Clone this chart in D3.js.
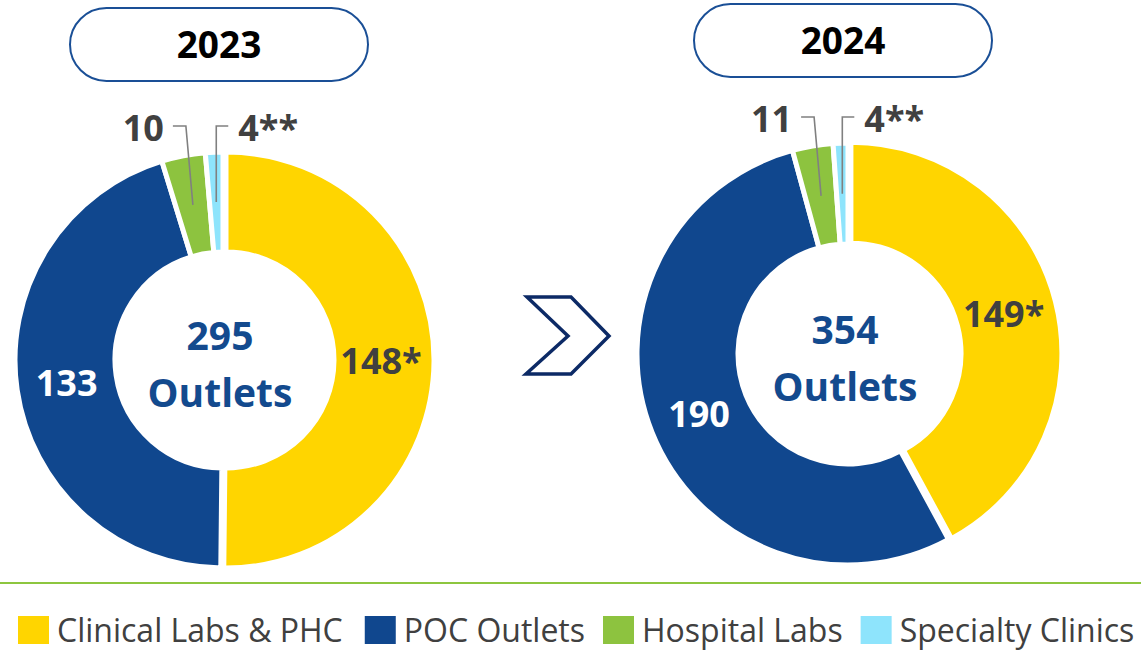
<!DOCTYPE html>
<html>
<head>
<meta charset="utf-8">
<script src="https://cdn.jsdelivr.net/npm/d3@7"></script>
<style>
  html, body { margin: 0; padding: 0; background: #fff; }
  svg { display: block; font-family: "Open Sans", sans-serif; }
</style>
</head>
<body>
<div id="chart"></div>
<script>
// data
var years = ["2023", "2024"];
var categories = ["Clinical Labs & PHC", "POC Outlets", "Hospital Labs", "Specialty Clinics"];
var values2023 = [148, 133, 10, 4];
var values2024 = [149, 190, 11, 4];
var labels2023 = ["148*", "133", "10", "4**"];
var labels2024 = ["149*", "190", "11", "4**"];
var colors = ["#FFD500", "#10478E", "#8DC33F", "#8EE4FC"];

var width = 1141, height = 651;

var svg = d3.select("#chart").append("svg")
  .attr("width", width)
  .attr("height", height);

// one donut per year
var charts = [
  {year: years[0], values: values2023, labels: labels2023, cx: 223, cy: 360, R: 208, r: 108, pillX: 70, pillY: 8},
  {year: years[1], values: values2024, labels: labels2024, cx: 848, cy: 354, R: 211, r: 110, pillX: 694, pillY: 4}
];

var pie = d3.pie().sort(null).value(function(d) { return d; });

charts.forEach(function(c) {
  var g = svg.append("g").attr("transform", "translate(" + c.cx + "," + c.cy + ")");
  var arc = d3.arc().innerRadius(c.r).outerRadius(c.R);
  var mid = d3.arc().innerRadius(c.R * 0.76).outerRadius(c.R * 0.76);
  var arcs = pie(c.values);

  // slices (first slice pulled out a little)
  g.selectAll("path.slice")
    .data(arcs)
    .enter()
    .append("path")
      .attr("class", "slice")
      .attr("d", arc)
      .attr("fill", function(d, i) { return colors[i]; })
      .attr("stroke", "#fff")
      .attr("stroke-width", 5)
      .attr("transform", function(d, i) {
        if (i !== 0) return null;
        var a = (d.startAngle + d.endAngle) / 2;
        return "translate(" + (Math.sin(a) * 3) + "," + (-Math.cos(a) * 3) + ")";
      });

  // labels inside the big slices
  g.selectAll("text.inlabel")
    .data(arcs.filter(function(d) { return d.index < 2; }))
    .enter()
    .append("text")
      .attr("class", "inlabel")
      .attr("transform", function(d) { return "translate(" + arc.centroid(d) + ")"; })
      .attr("dy", "0.36em")
      .attr("text-anchor", "middle")
      .style("font-size", "36px")
      .style("font-weight", "700")
      .attr("fill", function(d) { return d.index === 1 ? "#fff" : "#404040"; })
      .text(function(d) { return c.labels[d.index]; });

  // leader lines + labels for the thin slices
  var ly = -c.R - 26;
  arcs.filter(function(d) { return d.index >= 2; }).forEach(function(d) {
    var p = mid.centroid(d);
    var left = d.index === 2;
    var ex = left ? p[0] - 7 : p[0];
    var hx = left ? ex - 13 : ex + 12;
    g.append("path")
      .attr("d", "M" + p[0] + "," + p[1] + "L" + ex + "," + ly + "L" + hx + "," + ly)
      .attr("fill", "none")
      .attr("stroke", "#808080")
      .attr("stroke-width", 1.6);
    g.append("text")
      .attr("x", left ? hx - 9 : hx + 10)
      .attr("y", ly + 15)
      .attr("text-anchor", left ? "end" : "start")
      .style("font-size", "36px")
      .style("font-weight", "700")
      .attr("fill", "#404040")
      .text(c.labels[d.index]);
  });

  // total in the hole
  var total = d3.sum(c.values);
  g.append("text")
    .attr("x", -3).attr("y", -10)
    .attr("text-anchor", "middle")
    .style("font-size", "39px").style("font-weight", "700")
    .attr("fill", "#134A8E")
    .text(total);
  g.append("text")
    .attr("x", -3).attr("y", 47)
    .attr("text-anchor", "middle")
    .style("font-size", "39px").style("font-weight", "700")
    .attr("fill", "#134A8E")
    .text("Outlets");

  // year pill
  svg.append("rect")
    .attr("x", c.pillX).attr("y", c.pillY)
    .attr("width", 298).attr("height", 73)
    .attr("rx", 36.5)
    .attr("fill", "#fff")
    .attr("stroke", "#1A4F96")
    .attr("stroke-width", 2);
  svg.append("text")
    .attr("x", c.pillX + 149)
    .attr("y", c.pillY + 50)
    .attr("text-anchor", "middle")
    .style("font-size", "37px").style("font-weight", "700")
    .attr("fill", "#000")
    .text(c.year);
});

// chevron between the donuts
svg.append("path")
  .attr("d", "M527,297 L571,297 L609,336 L571,374 L526,374 L568,336 Z")
  .attr("fill", "#fff")
  .attr("stroke", "#0C2A66")
  .attr("stroke-width", 3.5)
  .attr("stroke-linejoin", "miter");

// green divider
svg.append("line")
  .attr("x1", 0).attr("x2", width)
  .attr("y1", 583).attr("y2", 583)
  .attr("stroke", "#8DC63F")
  .attr("stroke-width", 2);

// legend
var legend = svg.append("g");
var lx = 18;
categories.forEach(function(name, i) {
  legend.append("rect")
    .attr("x", lx).attr("y", 616)
    .attr("width", 31).attr("height", 28)
    .attr("fill", colors[i]);
  var t = legend.append("text")
    .attr("x", lx + 39)
    .attr("y", 642)
    .style("font-size", "32px")
    .attr("fill", "#404040")
    .text(name);
  var w = t.node().getComputedTextLength();
  lx += 39 + w + (i === 0 ? 22 : 18);
});
</script>
</body>
</html>
